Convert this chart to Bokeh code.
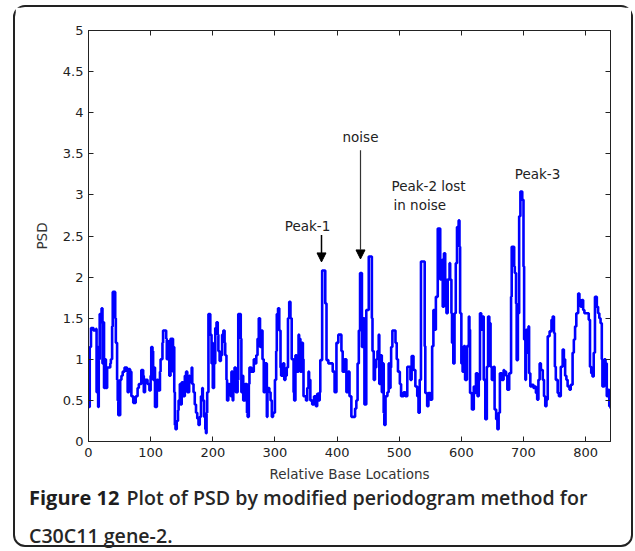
from bokeh.plotting import figure
from bokeh.layouts import column
from bokeh.models import (Range1d, Label, Arrow, NormalHead, Div,
                          LinearAxis, FixedTicker, CustomJSTickFormatter)
from bokeh.embed import file_html
from bokeh.resources import INLINE

# ---------------- data ----------------
x_a = [0, 1, 2, 4, 8, 12, 13, 14, 15.5, 16.5, 18, 20, 21, 22.5, 23.5, 25, 27, 28, 30, 34,
       35, 36, 38, 39, 41, 43, 44, 46, 47, 48, 50, 51, 53, 55, 58, 62, 63, 65, 67, 68,
       69, 72, 73, 76, 79, 81, 85, 88, 89, 91, 95, 98, 100]
y_a = [0.70, 0.42, 1.15, 1.38, 1.35, 1.37, 0.60, 1.15, 0.42, 1.00, 1.55, 1.45, 1.62, 0.95, 1.45, 0.65, 1.00, 0.65, 0.90, 0.90,
       0.95, 1.00, 1.40, 1.82, 1.82, 1.50, 1.20, 0.75, 0.50, 0.32, 0.32, 0.75, 0.80, 0.85, 0.90, 0.85, 0.60, 0.88, 0.75, 0.85,
       0.55, 0.47, 0.47, 0.55, 0.65, 0.70, 0.87, 0.80, 0.60, 0.75, 0.70, 0.62, 0.80]

x_b = [101, 103, 104, 105, 107, 109, 110, 112, 115, 116, 119, 120, 123, 125, 126, 128, 130, 132, 134, 136,
       137, 138, 139, 140, 142, 144, 145, 147, 148, 150, 152, 155, 157, 159, 162, 163, 166, 167, 169, 171,
       173, 175, 177, 179, 181, 183, 184, 186, 188, 189, 190, 191, 193, 195, 196, 198, 199, 200]
y_b = [1.15, 1.10, 0.75, 0.90, 0.42, 0.42, 0.75, 0.62, 0.85, 1.00, 1.20, 1.35, 1.35, 1.25, 1.00, 1.22, 0.80, 1.25, 1.25, 0.85,
       1.15, 0.60, 0.20, 0.15, 0.25, 0.38, 0.50, 0.70, 0.45, 0.72, 0.55, 0.80, 0.85, 0.60, 0.80, 0.72, 0.90, 0.70, 0.60, 0.45,
       0.35, 0.28, 0.20, 0.30, 0.55, 0.65, 0.50, 0.30, 0.15, 0.10, 0.35, 0.60, 1.55, 1.55, 1.30, 0.95, 1.20, 0.65]

x_c = [202, 204, 206, 208, 209, 211, 213, 215, 217, 219, 220, 222, 223, 225, 227, 229, 230, 232, 233, 235,
       237, 240, 241, 244, 245, 246, 248, 249, 252, 255, 256, 258, 259, 262, 266, 268, 270, 272, 274, 275,
       276, 278, 280, 282, 284, 287, 288, 291, 293, 295, 297, 300]
y_c = [0.95, 1.38, 1.45, 1.30, 1.10, 0.98, 1.05, 1.30, 1.35, 1.20, 1.05, 0.75, 0.50, 0.70, 0.60, 0.55, 0.85, 0.50, 0.75, 0.90,
       0.60, 0.75, 1.55, 1.55, 1.25, 0.60, 0.80, 0.50, 0.70, 0.35, 0.30, 0.70, 0.90, 0.85, 1.00, 0.95, 1.05, 1.25, 1.50, 1.50,
       1.15, 1.35, 1.00, 0.60, 0.95, 0.30, 0.65, 0.60, 0.50, 0.30, 0.35, 0.75]

x_d = [302, 303, 305, 307, 309, 310, 313, 315, 317, 319, 321, 323, 325, 327, 330, 331, 333, 335, 338, 339,
       341, 343, 345, 346, 350, 352, 354, 355, 357, 360, 363, 366, 368, 370, 372, 373, 376, 380, 381, 383,
       386, 391, 393, 396, 399]
y_d = [1.10, 1.55, 1.62, 1.35, 0.90, 0.80, 0.95, 0.75, 0.80, 0.90, 1.50, 1.70, 1.50, 1.00, 0.60, 0.50, 1.05, 0.85, 1.30, 1.25,
       0.85, 1.20, 1.00, 0.55, 0.50, 0.65, 0.85, 0.75, 0.50, 0.45, 0.55, 0.43, 0.58, 0.50, 0.60, 0.99, 2.08, 2.08, 1.68, 0.99,
       0.95, 0.95, 0.85, 0.60, 1.20]

x_e = [402, 405, 407, 409, 412, 415, 418, 420, 423, 427, 429, 431, 433, 435, 437, 439, 440, 442, 444, 447,
       451, 454, 456, 457, 459, 461, 463, 465, 467, 468, 470, 472, 473, 475, 476, 478, 481, 483, 484, 486,
       487, 489, 492, 494, 496, 498]
y_e = [1.30, 1.30, 1.10, 0.85, 1.00, 0.60, 0.85, 0.55, 0.30, 0.30, 0.40, 0.50, 0.95, 1.35, 2.05, 2.05, 1.15, 1.50, 0.45, 1.60,
       2.25, 2.25, 1.50, 1.10, 0.75, 0.90, 1.00, 1.10, 1.30, 0.70, 1.05, 0.60, 0.95, 0.35, 0.20, 0.55, 0.60, 0.95, 0.65, 0.90,
       1.15, 1.35, 1.35, 1.20, 1.00, 0.85]

x_f = [501, 503, 507, 510, 513, 515, 518, 520, 523, 526, 529, 531, 533, 535, 539, 541, 542, 545, 547, 550,
       553, 555, 557, 559, 562, 564, 566, 569, 570, 572, 574, 576, 578, 581, 582, 584, 585, 587, 589, 591,
       593, 595.6, 597, 598, 600]
y_f = [0.70, 0.55, 0.60, 0.55, 0.91, 0.91, 0.75, 1.04, 0.87, 0.67, 0.55, 0.35, 0.75, 2.19, 2.19, 1.16, 0.59, 0.43, 0.59, 0.51,
       1.16, 1.60, 1.36, 1.76, 2.59, 2.59, 1.97, 2.21, 1.64, 2.29, 1.97, 1.56, 1.97, 2.17, 1.97, 1.56, 1.20, 0.95, 1.56, 2.17,
       2.61, 2.69, 2.37, 1.56, 0.95]

x_g = [602, 604, 606, 609, 612, 613, 614, 617, 620, 621, 623.5, 626, 628, 630, 632, 634, 636, 638.5, 641, 643,
       645, 647, 649, 652, 653.5, 656, 658, 660, 662, 665, 668, 669, 672, 674, 677, 680, 681, 683, 685, 686,
       688, 689, 691, 693, 695, 697, 698, 700]
y_g = [0.85, 1.16, 0.75, 1.16, 1.52, 1.36, 0.59, 0.39, 0.67, 0.59, 0.83, 0.55, 0.75, 1.56, 1.36, 1.52, 0.75, 0.27, 0.91, 1.52,
       1.44, 0.91, 0.75, 0.91, 0.39, 0.27, 0.15, 0.35, 0.83, 0.75, 0.87, 0.85, 0.80, 0.63, 0.83, 1.76, 2.37, 2.37, 2.13, 2.05,
       1.68, 0.99, 1.56, 2.74, 3.04, 3.04, 2.94, 2.13]

x_h = [701, 703, 704, 706, 708, 709, 711, 713, 716, 718, 720, 722, 724, 726, 728, 731, 733, 735, 737, 739,
       742, 745, 747, 749, 750.5, 752, 755, 757, 760, 763, 765, 767, 769, 771, 774, 776, 779, 781, 783, 785,
       788, 790, 792, 794, 796, 798, 800, 803, 805, 807, 809, 811, 813, 815, 818, 820, 822, 824, 826, 827,
       830, 832, 834, 836, 838, 840]
y_h = [1.24, 0.75, 1.36, 1.08, 1.40, 0.83, 0.67, 0.69, 0.65, 0.67, 0.59, 0.51, 0.75, 0.95, 0.87, 0.75, 0.55, 0.43, 0.51, 1.28,
       1.34, 1.48, 1.52, 1.32, 0.91, 0.75, 0.59, 0.55, 0.91, 1.12, 1.00, 0.80, 0.75, 0.67, 0.63, 0.69, 1.08, 1.24, 1.40, 1.56,
       1.80, 1.72, 1.64, 1.72, 1.60, 1.56, 1.56, 1.56, 1.48, 0.91, 0.83, 0.79, 1.08, 1.76, 1.64, 1.56, 1.50, 1.44, 1.00, 0.67,
       1.00, 0.95, 0.55, 0.63, 0.43, 0.40]

x_ticks = [0, 100, 200, 300, 400, 500, 600, 700, 800]
y_ticks = [0, 0.5, 1, 1.5, 2, 2.5, 3, 3.5, 4, 4.5, 5]
x_label = "Relative Base Locations"
y_label = "PSD"
caption_bold = "Figure 12"
caption_rest = "Plot of PSD by modified periodogram method for"
caption_line2 = "C30C11 gene-2."

psd_x = x_a + x_b + x_c + x_d + x_e + x_f + x_g + x_h
psd_y = y_a + y_b + y_c + y_d + y_e + y_f + y_g + y_h
assert len(psd_x) == len(psd_y)

# ---------------- layout (window pixel coordinates) ----------------
BOX_L, BOX_T = 13, 5          # outer rounded box
BORDER = 2
CX, CY = BOX_L + BORDER, BOX_T + BORDER   # canvas origin in window
FIG_W, FIG_H = 616, 477
CAP_H = 61
FL, FR, FT, FB = 88, 610, 30, 442         # frame in window px
XMAX, YMAX = 840, 5


def px_x(px):
    return (px - FL) / (FR - FL) * XMAX


def px_y(py):
    return (FB - py) / (FB - FT) * YMAX


TICK_FONT = "DejaVu Sans"

p = figure(width=FIG_W, height=FIG_H, output_backend="svg", toolbar_location=None,
           x_range=Range1d(0, XMAX), y_range=Range1d(0, YMAX),
           min_border_left=FL - CX, min_border_right=CX + FIG_W - FR,
           min_border_top=FT - CY, min_border_bottom=CY + FIG_H - FB,
           x_axis_location=None, y_axis_location=None)
p.grid.visible = False
p.outline_line_color = "#222222"
p.outline_line_width = 1
p.background_fill_color = "white"
p.border_fill_color = "white"

empty = CustomJSTickFormatter(code="return ''")


def style_axis(ax, ticks, labels=True):
    ax.ticker = FixedTicker(ticks=ticks)
    ax.major_tick_in = 5
    ax.major_tick_out = 0
    ax.minor_tick_line_color = None
    ax.axis_line_color = "#222222"
    ax.major_tick_line_color = "#222222"
    ax.major_label_text_font = TICK_FONT
    ax.major_label_text_font_size = "13px"
    ax.major_label_text_color = "#222222"
    ax.axis_label_text_font = TICK_FONT
    ax.axis_label_text_font_size = "13.5px"
    ax.axis_label_text_font_style = "normal"
    ax.axis_label_text_color = "#333333"
    if not labels:
        ax.formatter = empty


xb = LinearAxis(axis_label=x_label)
style_axis(xb, x_ticks)
xb.major_label_standoff = 6
xb.axis_label_standoff = 6
xt = LinearAxis()
style_axis(xt, x_ticks, labels=False)
yl = LinearAxis(axis_label=y_label)
style_axis(yl, y_ticks)
yl.major_label_standoff = 5
yl.axis_label_standoff = 10
yr = LinearAxis()
style_axis(yr, y_ticks, labels=False)
p.add_layout(xb, "below")
p.add_layout(xt, "above")
p.add_layout(yl, "left")
p.add_layout(yr, "right")

# PSD trace
p.step(psd_x, psd_y, mode="after", line_color="#0000ff", line_width=2.6)

# annotations
ANN_FONT = "DejaVu Sans"


def ann(text, px, py, align="center"):
    p.add_layout(Label(x=px_x(px), y=px_y(py), text=text, text_font=ANN_FONT,
                       text_font_size="13.5px", text_color="#222222",
                       text_align=align, text_baseline="middle"))


ann("Peak-1", 307, 226)
ann("noise", 360, 137)
ann("Peak-2 lost", 391, 186, "left")
ann("in noise", 393, 205, "left")
ann("Peak-3", 537, 174)

p.add_layout(Arrow(end=NormalHead(size=9, fill_color="black", line_color="black"),
                   x_start=px_x(321), y_start=px_y(235), x_end=px_x(321), y_end=px_y(262),
                   line_color="black", line_width=1.5))
p.add_layout(Arrow(end=NormalHead(size=9, fill_color="black", line_color="black"),
                   x_start=px_x(360), y_start=px_y(150), x_end=px_x(360), y_end=px_y(259),
                   line_color="#333333", line_width=1.2))

# caption
cap_html = (
    '<div style="font-family:\'Open Sans\'; color:#262626; '
    'padding-left:14px; white-space:nowrap;">'
    '<div style="line-height:28px;">'
    f'<span style="font-weight:700; font-size:20px; color:#1e1e1e;">{caption_bold}</span>'
    f'<span style="font-weight:600; font-size:19.6px; margin-left:7px;">{caption_rest}</span></div>'
    f'<div style="line-height:24px; margin-top:9px; font-weight:600; font-size:19.6px;">{caption_line2}</div>'
    '</div>'
)
cap = Div(text=cap_html, width=FIG_W, height=CAP_H, margin=0,
          styles={"overflow": "visible"})

layout = column(p, cap, margin=(BOX_T, 0, 0, BOX_L), spacing=0,
                styles={"border": f"{BORDER}px solid #222222", "border-radius": "12px",
                        "background-color": "white"})

open("out.html", "w").write(file_html(layout, INLINE))
